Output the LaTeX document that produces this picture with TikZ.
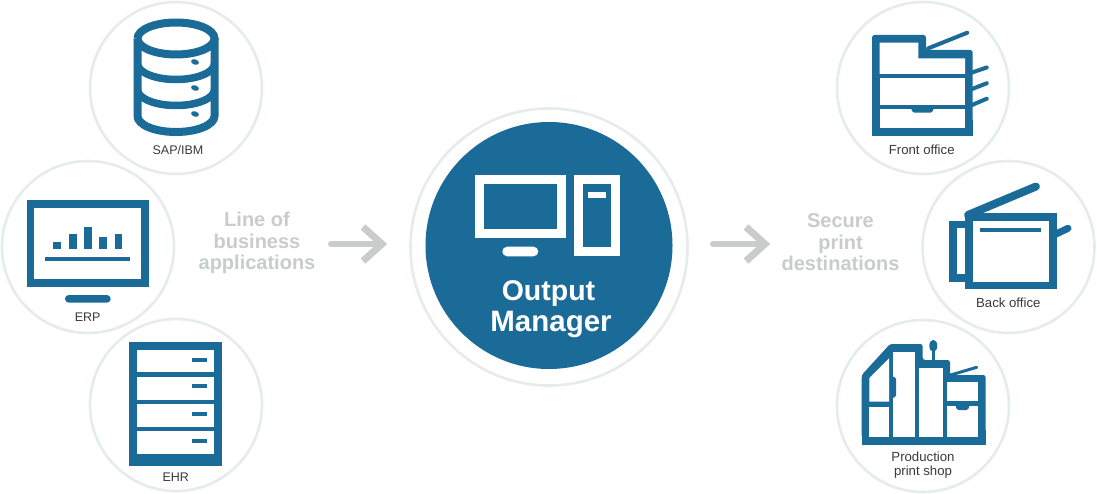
\documentclass[tikz,border=0pt]{standalone}
\usepackage{fontspec}
\setmainfont{Liberation Sans}
\definecolor{iconblue}{HTML}{1B6B98}
\definecolor{ringgray}{HTML}{E6ECEB}
\definecolor{softgray}{HTML}{C8CCCB}
\definecolor{labelgray}{HTML}{3A3A3A}
\tikzset{
  ring/.style={circle,draw=ringgray,line width=2.6pt,inner sep=0pt,outer sep=0pt,minimum size=172pt,fill=white},
  smalllabel/.style={text=labelgray,font=\fontsize{12.5}{13.5}\selectfont,inner sep=0pt,align=center},
  widelabel/.style={text=labelgray,font=\fontsize{13.2}{13.5}\selectfont,inner sep=0pt,align=center},
  heading/.style={text=softgray,font=\fontsize{20}{21.5}\selectfont\bfseries,inner sep=0pt,align=center},
  title/.style={text=white,font=\fontsize{28.5}{30}\selectfont\bfseries,inner sep=0pt,anchor=base},
  flowline/.style={draw=softgray,line width=6pt,line cap=round},
  flowhead/.style={draw=softgray,line width=7pt,miter limit=10},
  blue/.style={fill=iconblue,draw=none},
  hole/.style={fill=white,draw=none},
  whitepart/.style={fill=white,draw=none},
  arm/.style={draw=iconblue,line cap=round}
}
\begin{document}
\begin{tikzpicture}[x=1pt,y=-1pt]
\useasboundingbox (0,0) rectangle (1097,494);
\fill[white] (0,0) rectangle (1097,494);
% rings
\node[ring] (sap) at (176,88) {};
\node[ring] (erp) at (88,247) {};
\node[ring] (ehr) at (176,405) {};
\node[ring] (front) at (923,88) {};
\node[ring] (back) at (1008.5,247) {};
\node[ring] (prod) at (923,406) {};
\node[ring,minimum size=277pt] (outerring) at (549,247) {};
\node[circle,blue,inner sep=0pt,outer sep=0pt,minimum size=247pt] (core) at (549,245.5) {};

% database
\draw[iconblue,line width=8pt,fill=white] (137.5,38.5) arc[start angle=180,end angle=-180,x radius=38.5,y radius=16];
\draw[iconblue,line width=8pt] (137.5,38.5) -- (137.5,116) arc[start angle=180,end angle=0,x radius=38.5,y radius=16] -- (214.5,38.5);
\draw[iconblue,line width=7.5pt] (137.5,63.5) arc[start angle=180,end angle=0,x radius=38.5,y radius=16];
\draw[iconblue,line width=7.5pt] (137.5,89.5) arc[start angle=180,end angle=0,x radius=38.5,y radius=16];
\foreach \yy in {62,88,114} \fill[iconblue,rotate around={-15:(195,\yy)}] (195,\yy) ellipse[x radius=4pt,y radius=2.6pt];

% monitor ERP
\fill[blue] (26.7,200) rectangle (149,287.3);
\fill[hole] (34.3,208) rectangle (141,279);
\fill[blue] (53,241.7) rectangle (61,249);
\fill[blue] (69,234) rectangle (76.7,249);
\fill[blue] (84.3,226.7) rectangle (92,249);
\fill[blue] (99.3,237) rectangle (107,249);
\fill[blue] (114.7,234) rectangle (122.3,249);
\fill[blue] (45,256.7) rectangle (130,260.7);
\fill[blue,rounded corners=3.8pt] (65,295) rectangle (110.7,302.7);

% server EHR
\fill[blue] (129,342) rectangle (222,465.7);
\foreach \ya/\yb/\yd in {350/372.3/359.7,377/399.7/386.3,404/426.7/414,431/454.3/440.7}{
  \fill[hole] (137,\ya) rectangle (214,\yb);
  \fill[blue] (191.7,\yd-2) rectangle (207,\yd+2);
}

% front office
\draw[arm,line width=4pt] (928.3,48.3) -- (967.3,32.7);
\draw[arm,line width=4pt] (972,72.5) -- (986.7,67.5);
\draw[arm,line width=4pt] (972,89) -- (986.7,83.3);
\draw[arm,line width=4pt] (972,105) -- (986.7,98.7);
\fill[blue,rounded corners=2.5pt] (872,130) -- (872,35) -- (926,35) -- (926,50) -- (972.7,50) -- (972.7,130) -- cycle;
\fill[blue] (872,120) rectangle (972.7,136);
\fill[hole] (879.7,42.7) -- (918.3,42.7) -- (918.3,58.3) -- (965,58.3) -- (965,74) -- (879.7,74) -- cycle;
\fill[hole] (879.7,78) rectangle (965,105);
\fill[hole] (879.7,109) rectangle (965,127.7);
\fill[blue,rounded corners=1.5pt] (910.7,108) -- (934,108) -- (932,112.7) -- (913,112.7) -- cycle;

% back office
\draw[arm,line width=8pt] (968,215) -- (1036,186.5);
\draw[arm,line width=7pt] (1054,235) -- (1068,228.3);
\fill[blue] (949.3,220.7) rectangle (966,281.7);
\fill[hole] (957.3,227.7) rectangle (964.7,274.3);
\fill[blue] (964.7,212.7) rectangle (1056.7,289.3);
\fill[hole] (972.7,221) rectangle (1048.7,281.7);
\fill[blue] (980,228.3) rectangle (1041.3,232);

% production
\draw[arm,line width=3pt] (950.7,375) -- (976.7,367.3);
\draw[arm,line width=3.5pt,line cap=butt] (933.3,345) -- (933.3,361);
\fill[iconblue] (933.3,345.8) ellipse[x radius=4pt,y radius=6pt];
\fill[blue,rounded corners=2.5pt] (861.7,438) -- (861.7,375) -- (890,344) -- (922.7,344) -- (922.7,360) -- (950,360) -- (950,375) -- (985.7,375) -- (985.7,438) -- cycle;
\fill[blue] (861.7,430) rectangle (985.7,445);
\fill[hole] (889,358.3) -- (869.3,378) -- (869.3,401.7) -- (889,401.7) -- cycle;
\fill[hole] (869.3,406.7) rectangle (889,436.7);
\fill[hole] (892.7,352.3) rectangle (915,436.7);
\fill[blue,rounded corners=1.5pt] (890,376) -- (896,377.5) -- (896,397) -- (890,398.3) -- cycle;
\fill[hole] (919.3,367.7) rectangle (942.7,436.7);
\fill[hole] (946.7,381.7) rectangle (977.7,401);
\fill[hole] (946.7,405.7) rectangle (977.7,436.7);
\fill[blue,rounded corners=1.5pt] (955,404) -- (970,404) -- (968,410) -- (957,410) -- cycle;

% output manager icon
\fill[whitepart] (475,175) rectangle (566,238.3);
\fill[iconblue] (484.3,184.3) rectangle (556.7,229);
\fill[whitepart,rounded corners=4.8pt] (502.3,246.7) rectangle (538.3,256.3);
\fill[whitepart] (574.3,175) rectangle (620,256);
\fill[iconblue] (583.3,184.3) rectangle (610.7,246.7);
\fill[whitepart] (587.7,192.3) rectangle (606,197.7);

% labels
\node[smalllabel,anchor=base] (lsap) at (178,155) {SAP/IBM};
\node[smalllabel,anchor=base] (lerp) at (87.7,321) {ERP};
\node[smalllabel,anchor=base] (lehr) at (175.7,481.7) {EHR};
\node[widelabel,anchor=base] (lfront) at (921.7,154.3) {Front office};
\node[widelabel,anchor=base] (lback) at (1008.3,307.3) {Back office};
\node[widelabel] (lprod) at (923,465) {Production\\print shop};
\node[title] (t1) at (548.5,301) {Output};
\node[title,font=\fontsize{29.5}{30}\selectfont\bfseries] (t2) at (551,331) {Manager};
\node[heading] (hleft) at (257,243) {Line of\\business\\applications};
\node[heading] (hright) at (840.5,242.5) {Secure\\print\\destinations};

% arrows
\coordinate (a1) at (331,244);
\coordinate (a2) at (382,244);
\coordinate (a3) at (363,227);
\coordinate (a4) at (363,261);
\draw[flowline] (a1) -- (a2);
\draw[flowhead] (a3) -- (a2) -- (a4);
\coordinate (b1) at (713,244);
\coordinate (b2) at (765,244);
\coordinate (b3) at (746,227);
\coordinate (b4) at (746,261);
\draw[flowline] (b1) -- (b2);
\draw[flowhead] (b3) -- (b2) -- (b4);
\end{tikzpicture}
\end{document}
